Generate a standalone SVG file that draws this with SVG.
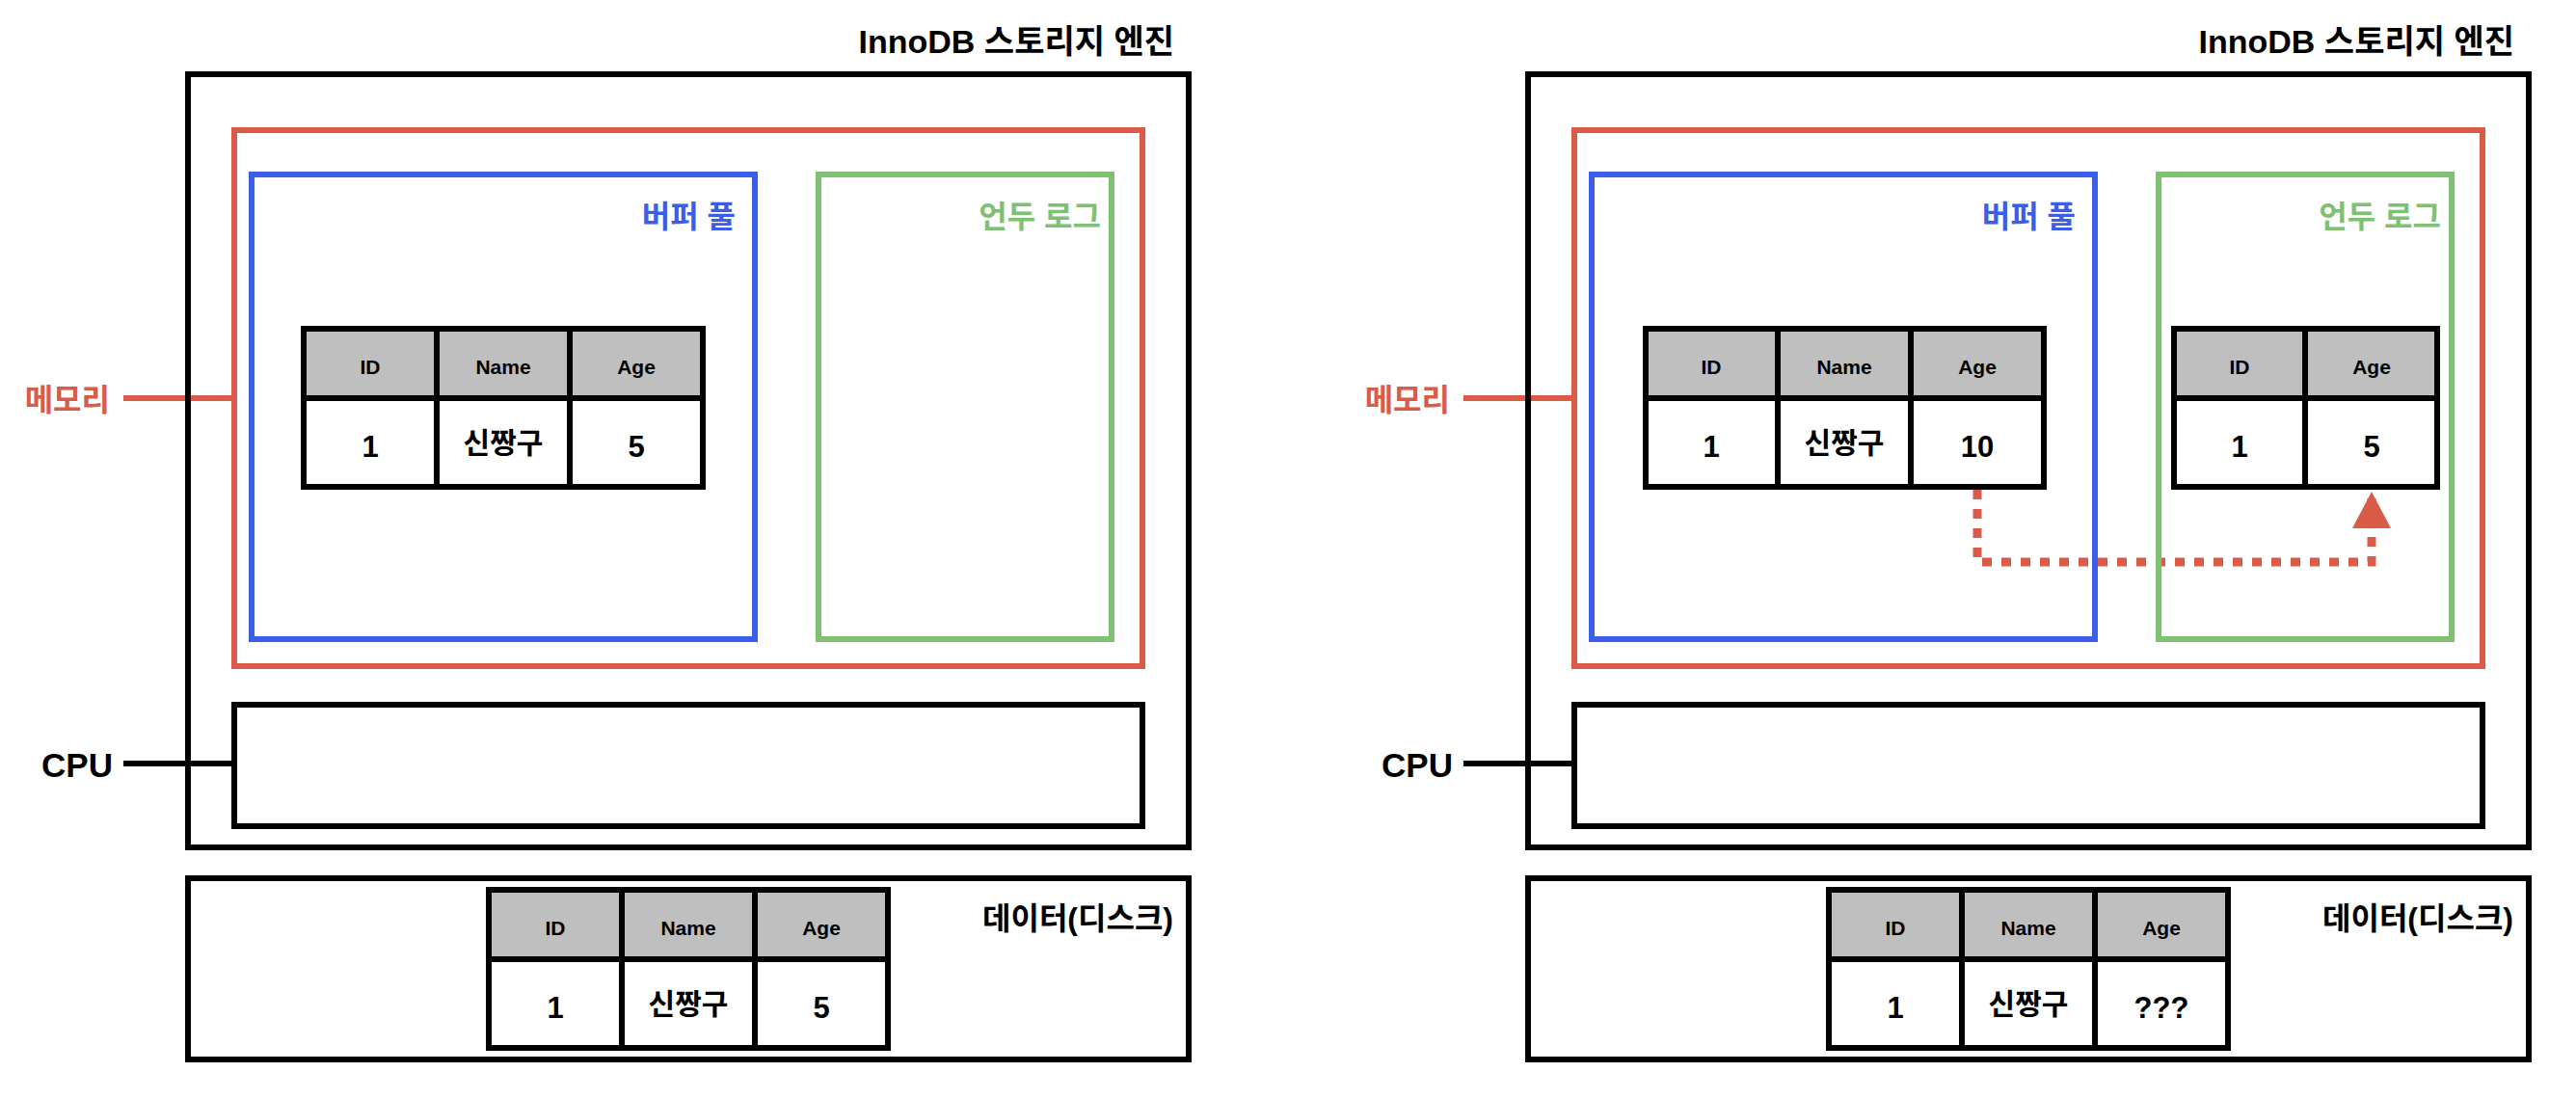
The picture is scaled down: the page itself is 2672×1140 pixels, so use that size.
<svg xmlns="http://www.w3.org/2000/svg" width="2672" height="1140" viewBox="0 0 2672 1140">
<style>
.bg{fill:#ffffff}
.box{fill:none;stroke:#000;stroke-width:6}
.mem{fill:none;stroke:#d95b48;stroke-width:6}
.buf{fill:none;stroke:#3a5ee8;stroke-width:6}
.undo{fill:none;stroke:#7ec173;stroke-width:6}
.hc{fill:#bfbfbf;stroke:#000;stroke-width:6}
.bc{fill:#ffffff;stroke:#000;stroke-width:6}
text{font-family:"Liberation Sans","Noto Sans CJK KR",sans-serif}
.title{font-size:34px;font-weight:bold;fill:#000;text-anchor:end}
.lbl{font-size:32px;font-weight:bold;text-anchor:end}
.cpu{font-size:35px;font-weight:bold;fill:#000;text-anchor:end}
.disk{font-size:32px;font-weight:600;fill:#000;text-anchor:end}
.hd{font-size:21px;font-weight:bold;fill:#000;text-anchor:middle}
.val{font-size:31px;font-weight:bold;fill:#000;text-anchor:middle}
.kr{font-size:30px;font-weight:bold;fill:#000;text-anchor:middle}
.ln-red{stroke:#d95b48;stroke-width:6;fill:none}
.ln-blk{stroke:#000;stroke-width:6;fill:none}
.flow{stroke:#d95b48;stroke-width:9;fill:none;stroke-dasharray:10 10}
</style>
<defs>
<marker id="arrow" markerUnits="userSpaceOnUse" viewBox="0 0 38 40" refX="38" refY="20" markerWidth="38" markerHeight="40" orient="auto">
<polygon points="0,0 38,20 0,40" fill="#d95b48"/>
</marker>
</defs>
<rect class="bg" x="0" y="0" width="2672" height="1140"/>

<g id="connectors">
<line class="ln-red" x1="128" y1="413" x2="243" y2="413"/>
<line class="ln-blk" x1="128" y1="792" x2="243" y2="792"/>
<line class="ln-red" x1="1518" y1="413" x2="1633" y2="413"/>
<line class="ln-blk" x1="1518" y1="792" x2="1633" y2="792"/>
<path class="flow" d="M2051 508 V583 H2460 V510" marker-end="url(#arrow)"/>
</g>

<!-- LEFT PANEL -->
<g id="engine-left">
<text class="title" x="1218" y="55">InnoDB 스토리지 엔진</text>
<rect class="box" x="195" y="77" width="1038" height="802"/>
</g>
<g id="memory-left">
<rect class="mem" x="243" y="135" width="942" height="556"/>
<text class="lbl" x="114" y="426" fill="#d95b48">메모리</text>
</g>
<g id="bufferpool-left">
<rect class="buf" x="261" y="181" width="522" height="482"/>
<text class="lbl" x="763" y="236" fill="#3a5ee8">버퍼 풀</text>
</g>
<g id="undolog-left">
<rect class="undo" x="849" y="181" width="304" height="482"/>
<text class="lbl" x="1142" y="236" fill="#7ec173">언두 로그</text>
</g>
<g id="cpu-left">
<rect class="box" x="243" y="731" width="942" height="126"/>
<text class="cpu" x="117" y="806">CPU</text>
</g>
<g id="table-buffer-left">
<rect class="hc" x="315" y="341" width="138" height="72"/>
<rect class="hc" x="453" y="341" width="138" height="72"/>
<rect class="hc" x="591" y="341" width="138" height="72"/>
<rect class="bc" x="315" y="413" width="138" height="92"/>
<rect class="bc" x="453" y="413" width="138" height="92"/>
<rect class="bc" x="591" y="413" width="138" height="92"/>
<text class="hd" x="384" y="388">ID</text>
<text class="hd" x="522" y="388">Name</text>
<text class="hd" x="660" y="388">Age</text>
<text class="val" x="384" y="474">1</text>
<text class="kr" x="522" y="470">신짱구</text>
<text class="val" x="660" y="474">5</text>
</g>
<g id="disk-left">
<rect class="box" x="195" y="911" width="1038" height="188"/>
<text class="disk" x="1217" y="964">데이터(디스크)</text>
</g>
<g id="table-disk-left">
<rect class="hc" x="507" y="923" width="138" height="72"/>
<rect class="hc" x="645" y="923" width="138" height="72"/>
<rect class="hc" x="783" y="923" width="138" height="72"/>
<rect class="bc" x="507" y="995" width="138" height="92"/>
<rect class="bc" x="645" y="995" width="138" height="92"/>
<rect class="bc" x="783" y="995" width="138" height="92"/>
<text class="hd" x="576" y="970">ID</text>
<text class="hd" x="714" y="970">Name</text>
<text class="hd" x="852" y="970">Age</text>
<text class="val" x="576" y="1056">1</text>
<text class="kr" x="714" y="1052">신짱구</text>
<text class="val" x="852" y="1056">5</text>
</g>

<!-- RIGHT PANEL -->
<g id="engine-right">
<text class="title" x="2608" y="55">InnoDB 스토리지 엔진</text>
<rect class="box" x="1585" y="77" width="1038" height="802"/>
</g>
<g id="memory-right">
<rect class="mem" x="1633" y="135" width="942" height="556"/>
<text class="lbl" x="1504" y="426" fill="#d95b48">메모리</text>
</g>
<g id="bufferpool-right">
<rect class="buf" x="1651" y="181" width="522" height="482"/>
<text class="lbl" x="2153" y="236" fill="#3a5ee8">버퍼 풀</text>
</g>
<g id="undolog-right">
<rect class="undo" x="2239" y="181" width="304" height="482"/>
<text class="lbl" x="2532" y="236" fill="#7ec173">언두 로그</text>
</g>
<g id="cpu-right">
<rect class="box" x="1633" y="731" width="942" height="126"/>
<text class="cpu" x="1507" y="806">CPU</text>
</g>
<g id="table-buffer-right">
<rect class="hc" x="1707" y="341" width="137" height="72"/>
<rect class="hc" x="1844" y="341" width="138" height="72"/>
<rect class="hc" x="1982" y="341" width="138" height="72"/>
<rect class="bc" x="1707" y="413" width="137" height="92"/>
<rect class="bc" x="1844" y="413" width="138" height="92"/>
<rect class="bc" x="1982" y="413" width="138" height="92"/>
<text class="hd" x="1775" y="388">ID</text>
<text class="hd" x="1913" y="388">Name</text>
<text class="hd" x="2051" y="388">Age</text>
<text class="val" x="1775" y="474">1</text>
<text class="kr" x="1913" y="470">신짱구</text>
<text class="val" x="2051" y="474">10</text>
</g>
<g id="table-undo-right">
<rect class="hc" x="2255" y="341" width="136" height="72"/>
<rect class="hc" x="2391" y="341" width="137" height="72"/>
<rect class="bc" x="2255" y="413" width="136" height="92"/>
<rect class="bc" x="2391" y="413" width="137" height="92"/>
<text class="hd" x="2323" y="388">ID</text>
<text class="hd" x="2460" y="388">Age</text>
<text class="val" x="2323" y="474">1</text>
<text class="val" x="2460" y="474">5</text>
</g>
<g id="disk-right">
<rect class="box" x="1585" y="911" width="1038" height="188"/>
<text class="disk" x="2607" y="964">데이터(디스크)</text>
</g>
<g id="table-disk-right">
<rect class="hc" x="1897" y="923" width="138" height="72"/>
<rect class="hc" x="2035" y="923" width="138" height="72"/>
<rect class="hc" x="2173" y="923" width="138" height="72"/>
<rect class="bc" x="1897" y="995" width="138" height="92"/>
<rect class="bc" x="2035" y="995" width="138" height="92"/>
<rect class="bc" x="2173" y="995" width="138" height="92"/>
<text class="hd" x="1966" y="970">ID</text>
<text class="hd" x="2104" y="970">Name</text>
<text class="hd" x="2242" y="970">Age</text>
<text class="val" x="1966" y="1056">1</text>
<text class="kr" x="2104" y="1052">신짱구</text>
<text class="val" x="2242" y="1056">???</text>
</g>
</svg>
